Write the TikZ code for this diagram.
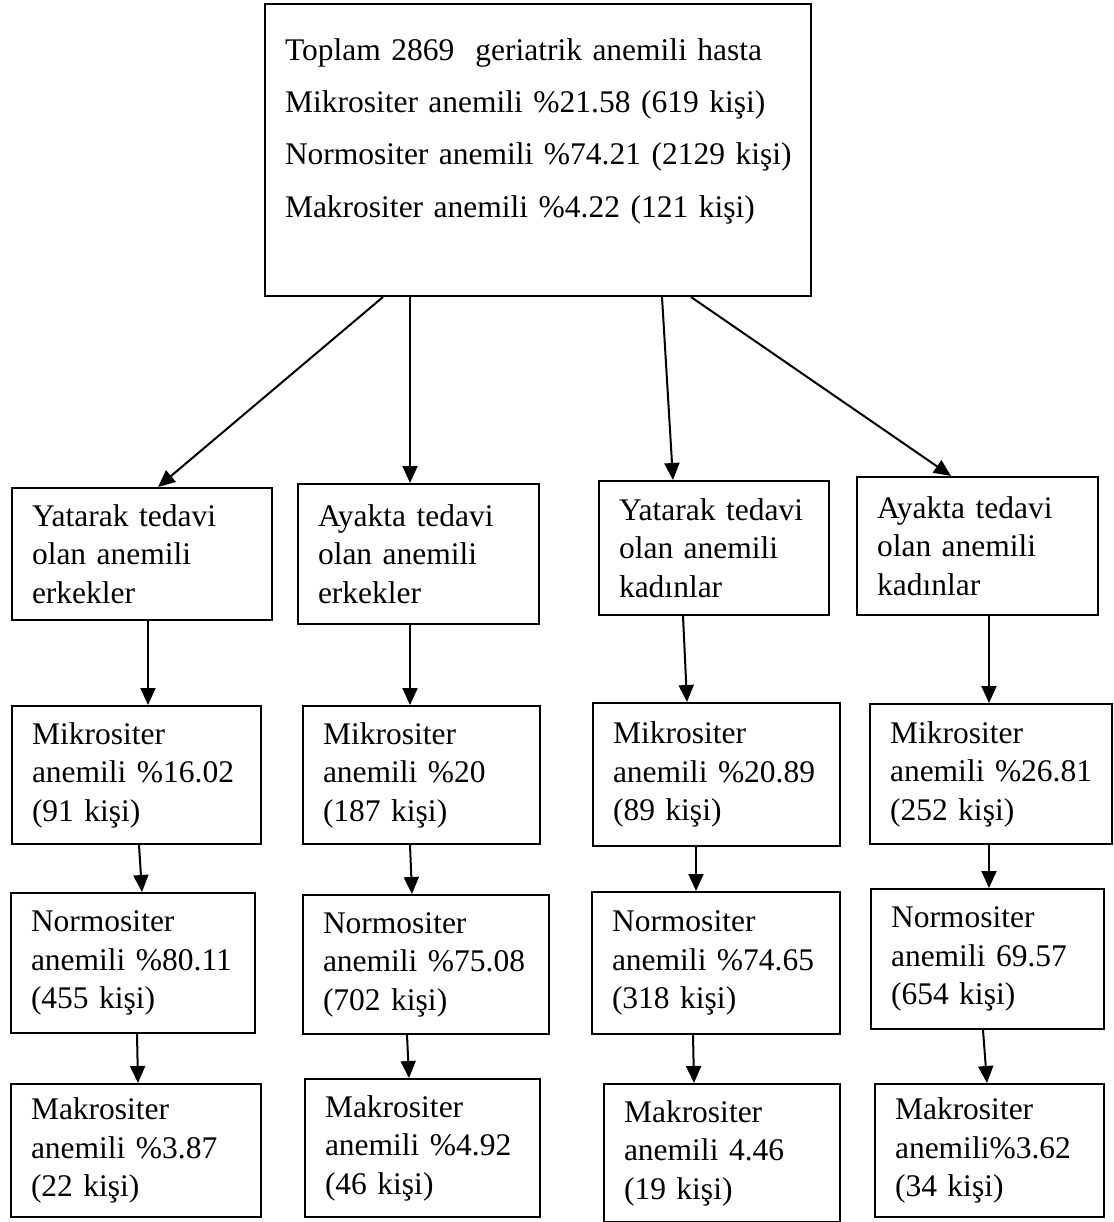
\documentclass[tikz,border=0pt]{standalone}
\usepackage{fontspec}
\setmainfont{Liberation Serif}
\usetikzlibrary{arrows.meta}
\tikzset{
  hastabox/.style={draw,line width=2pt,anchor=north west,align=left,
    inner xsep=20pt,inner ysep=0pt,font=\fontsize{31.5}{38.5}\selectfont},
  akisarrow/.style={-{Triangle[length=17pt,width=15pt]},line width=2pt}
}
\begin{document}
\begin{tikzpicture}[x=1pt,y=-1pt]
  \useasboundingbox[fill=white] (0,0) rectangle (1113,1222);
  \node[hastabox,text width=506pt,minimum height=292pt,font=\fontsize{31.5}{52.4}\selectfont] (toplam) at (264,3)
    {\mbox{Toplam 2869\ \ geriatrik anemili hasta}\\
     \mbox{Mikrositer anemili \%21.58 (619 kişi)}\\
     \mbox{Normositer anemili \%74.21 (2129 kişi)}\\
     \mbox{Makrositer anemili \%4.22 (121 kişi)}\\[-8pt]\mbox{}};
  % yatarak / ayakta, erkek / kadin
  \node[hastabox,text width=220pt,minimum height=132pt] (yatErk) at (11,487) {Yatarak tedavi\\olan anemili\\erkekler};
  \node[hastabox,text width=201pt,minimum height=140pt] (ayaErk) at (297,483) {Ayakta tedavi\\olan anemili\\erkekler};
  \node[hastabox,text width=190pt,minimum height=134pt] (yatKad) at (598,480) {Yatarak tedavi\\olan anemili\\kadınlar};
  \node[hastabox,text width=201pt,minimum height=138pt] (ayaKad) at (856,476) {Ayakta tedavi\\olan anemili\\kadınlar};
  % mikrositer
  \node[hastabox,text width=209pt,minimum height=138pt] (mikYE) at (11,705) {Mikrositer\\anemili~\%16.02\\(91 kişi)};
  \node[hastabox,text width=197pt,minimum height=138pt] (mikAE) at (302,705) {Mikrositer\\anemili~\%20\\(187 kişi)};
  \node[hastabox,text width=207pt,minimum height=143pt] (mikYK) at (592,702) {Mikrositer\\anemili~\%20.89\\(89 kişi)};
  \node[hastabox,text width=202pt,minimum height=140pt] (mikAK) at (869,703) {Mikrositer\\anemili~\%26.81\\(252 kişi)};
  % normositer
  \node[hastabox,text width=204pt,minimum height=140pt] (norYE) at (10,892) {Normositer\\anemili~\%80.11\\(455 kişi)};
  \node[hastabox,text width=206pt,minimum height=139pt] (norAE) at (302,894) {Normositer\\anemili~\%75.08\\(702 kişi)};
  \node[hastabox,text width=208pt,minimum height=142pt] (norYK) at (591,891) {Normositer\\anemili~\%74.65\\(318 kişi)};
  \node[hastabox,text width=193pt,minimum height=140pt] (norAK) at (870,888) {Normositer\\anemili~69.57\\(654 kişi)};
  % makrositer
  \node[hastabox,text width=210pt,minimum height=133pt] (makYE) at (10,1083) {Makrositer\\anemili~\%3.87\\(22 kişi)};
  \node[hastabox,text width=195pt,minimum height=138pt] (makAE) at (304,1078) {Makrositer\\anemili~\%4.92\\(46 kişi)};
  \node[hastabox,text width=196pt,minimum height=138pt] (makYK) at (603,1083) {Makrositer\\anemili~4.46\\(19 kişi)};
  \node[hastabox,text width=189pt,minimum height=133pt] (makAK) at (874,1083) {Makrositer\\anemili\%3.62\\(34 kişi)};
  % oklar
  \draw[akisarrow] (toplam.south -| 383,0) -- (yatErk.north -| 158,0);
  \draw[akisarrow] (toplam.south -| 410,0) -- (ayaErk.north -| 410,0);
  \draw[akisarrow] (toplam.south -| 662,0) -- (yatKad.north -| 673,0);
  \draw[akisarrow] (toplam.south -| 691,0) -- (ayaKad.north -| 951,0);
  \draw[akisarrow] (yatErk.south -| 148,0) -- (mikYE.north -| 148,0);
  \draw[akisarrow] (ayaErk.south -| 410,0) -- (mikAE.north -| 410,0);
  \draw[akisarrow] (yatKad.south -| 683,0) -- (mikYK.north -| 687,0);
  \draw[akisarrow] (ayaKad.south -| 989,0) -- (mikAK.north -| 989,0);
  \draw[akisarrow] (mikYE.south -| 139,0) -- (norYE.north -| 142,0);
  \draw[akisarrow] (mikAE.south -| 410,0) -- (norAE.north -| 412,0);
  \draw[akisarrow] (mikYK.south -| 696,0) -- (norYK.north -| 696,0);
  \draw[akisarrow] (mikAK.south -| 989,0) -- (norAK.north -| 989,0);
  \draw[akisarrow] (norYE.south -| 137,0) -- (makYE.north -| 138,0);
  \draw[akisarrow] (norAE.south -| 407,0) -- (makAE.north -| 409,0);
  \draw[akisarrow] (norYK.south -| 693,0) -- (makYK.north -| 694,0);
  \draw[akisarrow] (norAK.south -| 983,0) -- (makAK.north -| 987,0);
\end{tikzpicture}
\end{document}
